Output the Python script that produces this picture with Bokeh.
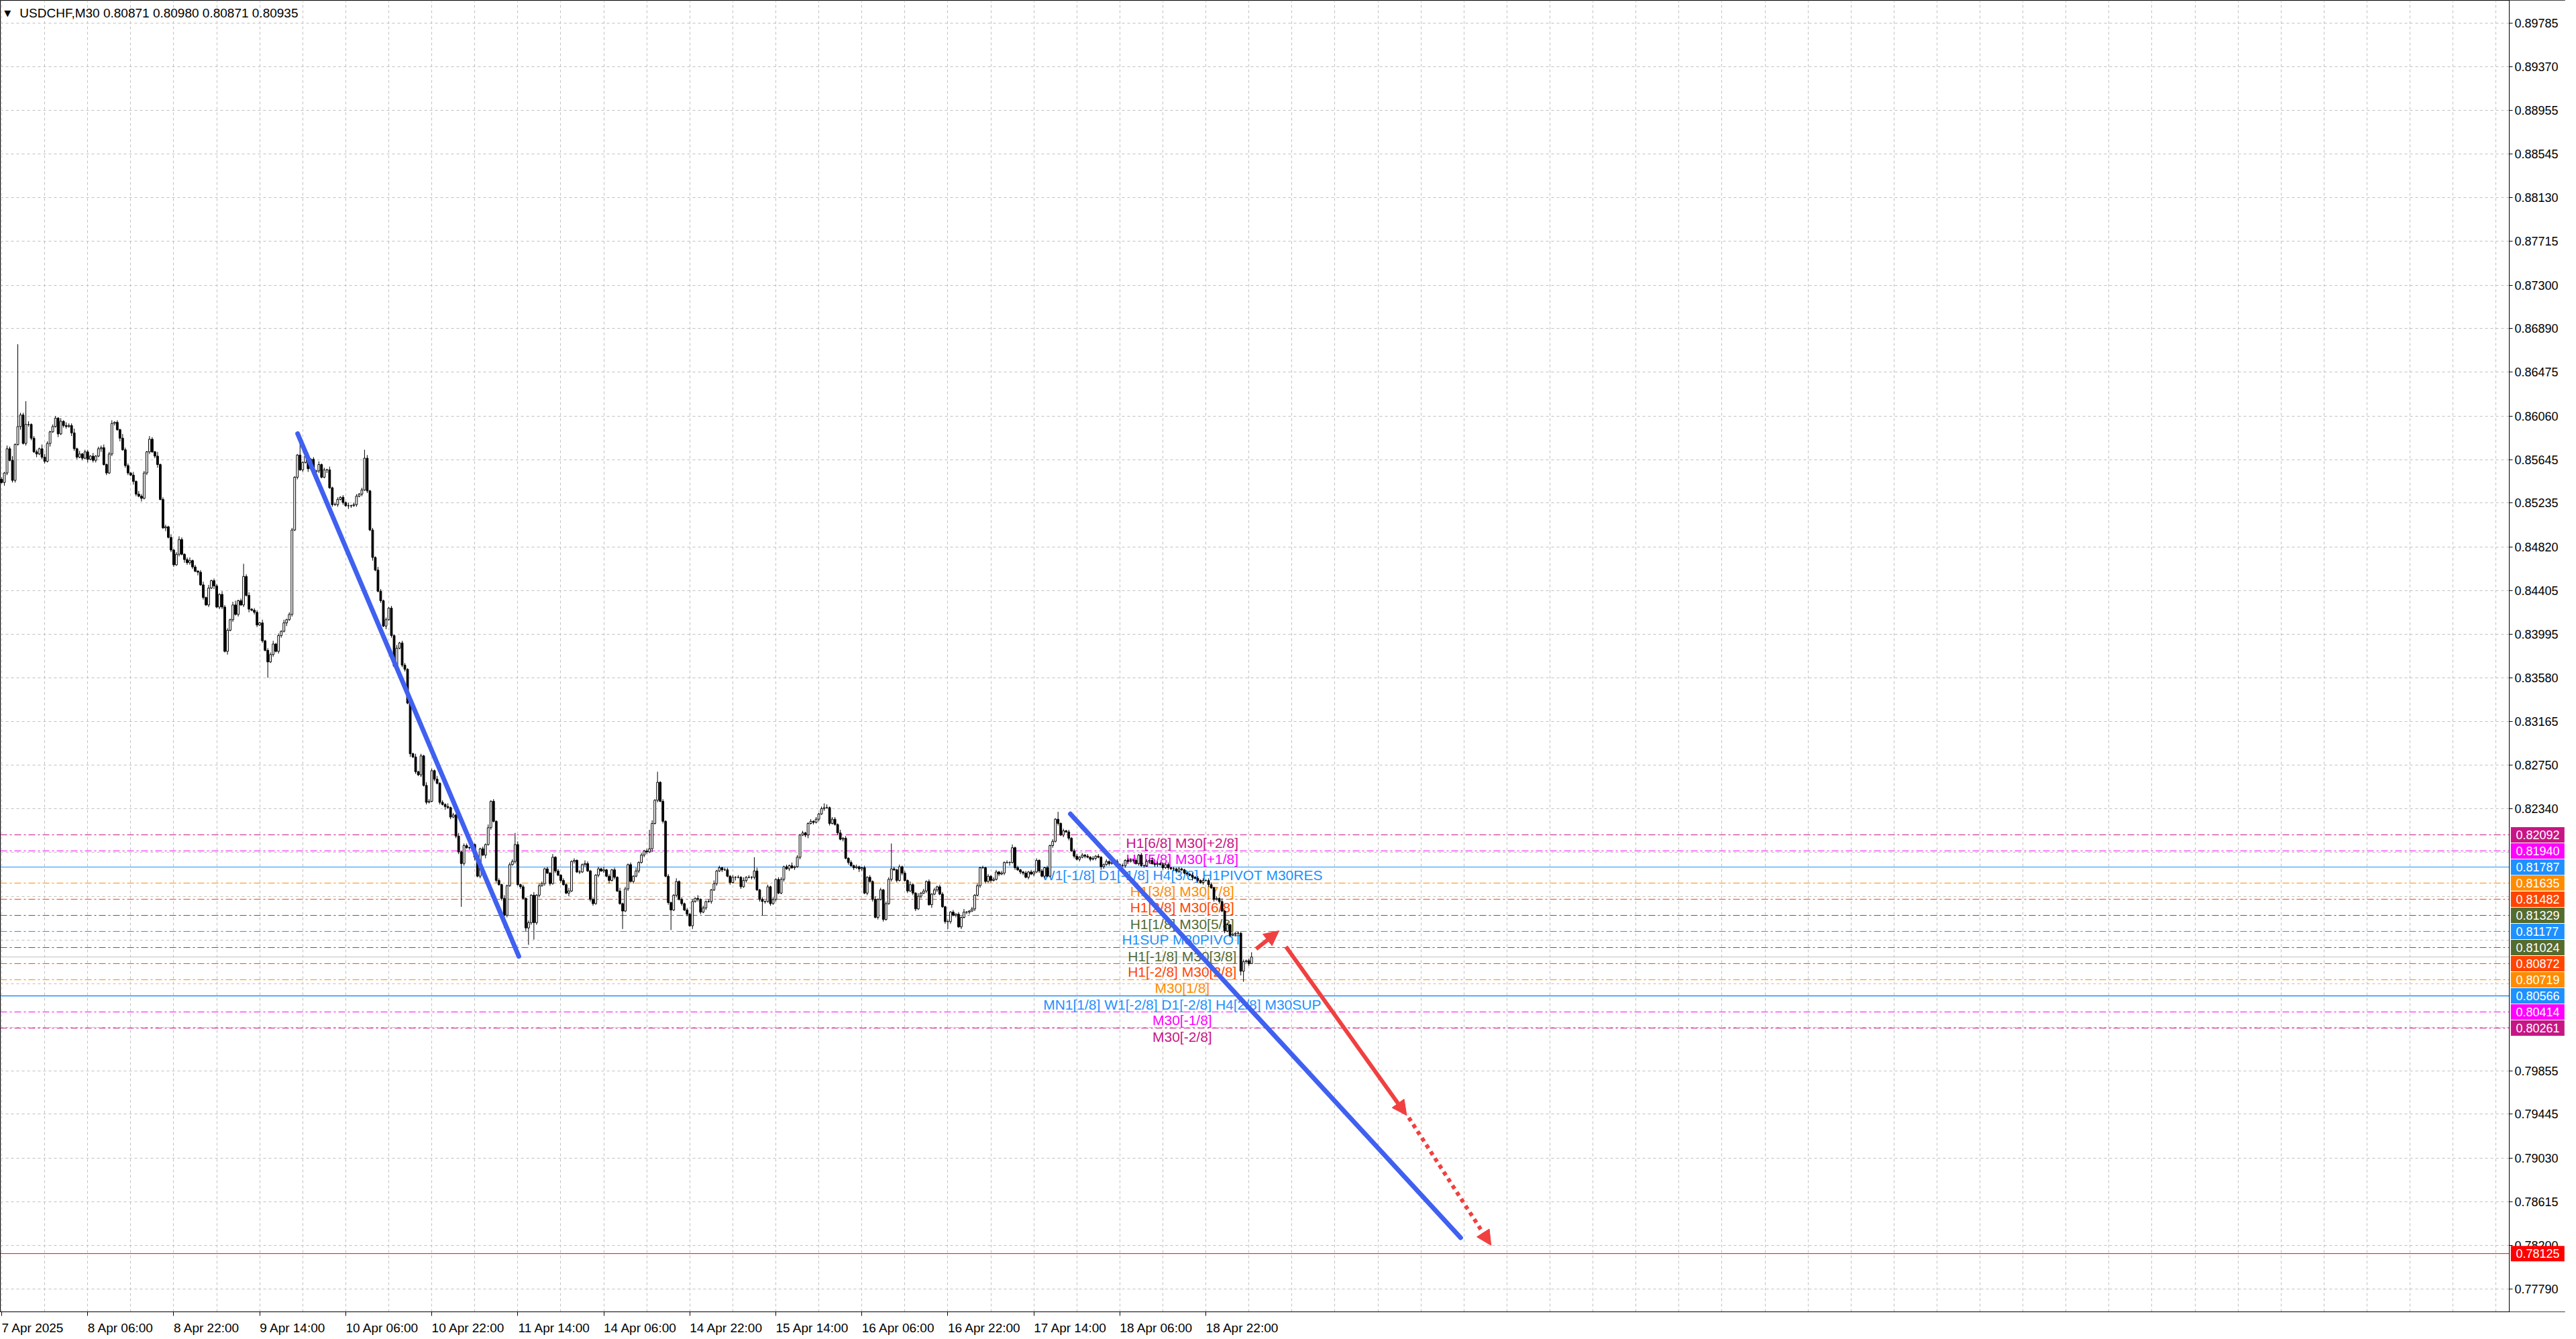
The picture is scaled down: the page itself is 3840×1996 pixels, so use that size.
import numpy as np
from bokeh.plotting import figure
from bokeh.models import (Range1d, FixedTicker, Span, Label, Arrow, NormalHead,
                          ColumnDataSource, PrintfTickFormatter)
from bokeh.core.properties import value
from bokeh.embed import file_html
from bokeh.resources import INLINE

SYMBOL = "USDCHF,M30"

# closes in 1e-5 price units, one per 30-minute bar
CLOSE = [
    85430,85520,85750,85640,85450,85790,85960,86070,85800,85980,
    85980,85850,85720,85700,85750,85670,85630,85800,85910,85960,
    86040,85890,86010,85970,85960,85970,85900,85750,85670,85700,
    85660,85720,85650,85680,85640,85680,85750,85760,85600,85520,
    85700,85990,86000,85930,85850,85740,85590,85520,85500,85440,
    85320,85300,85280,85520,85720,85840,85720,85680,85600,85270,
    85000,85010,84910,84790,84650,84750,84890,84750,84700,84670,
    84690,84630,84590,84580,84460,84340,84270,84430,84500,84450,
    84250,84370,84250,83830,84030,84130,84270,84180,84310,84270,
    84540,84360,84230,84220,84200,84080,84100,83930,83840,83730,
    83800,83900,83830,83980,84020,84100,84130,84180,84980,85480,
    85690,85550,85620,85680,85560,85650,85530,85540,85600,85480,
    85550,85550,85380,85220,85220,85270,85290,85240,85210,85210,
    85210,85220,85300,85320,85360,85660,85350,84980,84720,84600,
    84400,84310,84070,84130,84240,83980,83690,83860,83910,83700,
    83660,83340,82860,82830,82690,82660,82840,82560,82400,82410,
    82700,82620,82580,82400,82380,82360,82350,82260,82280,82080,
    81930,81820,81990,81970,81970,82000,81880,81700,81960,81900,
    82000,82160,82410,82220,81660,81620,81490,81330,81610,81810,
    81840,82000,81620,81600,81490,81210,81260,81520,81260,81520,
    81610,81630,81770,81730,81630,81880,81750,81710,81660,81620,
    81540,81560,81840,81850,81740,81740,81810,81820,81750,81480,
    81440,81710,81770,81750,81760,81700,81660,81760,81690,81560,
    81440,81370,81580,81810,81650,81700,81750,81830,81900,81940,
    81930,81960,82200,82420,82590,82410,82220,81700,81450,81380,
    81520,81650,81480,81440,81380,81340,81230,81460,81490,81480,
    81360,81400,81460,81460,81570,81630,81750,81780,81760,81760,
    81700,81640,81690,81690,81690,81600,81660,81690,81690,81690,
    81750,81570,81480,81460,81460,81600,81440,81480,81670,81540,
    81670,81790,81770,81800,81780,81790,81880,82090,82110,82090,
    82200,82220,82210,82240,82290,82340,82350,82350,82200,82240,
    82190,82110,82050,82060,81870,81830,81800,81780,81790,81770,
    81780,81540,81690,81650,81480,81310,81480,81570,81290,81440,
    81670,81770,81760,81660,81790,81730,81660,81560,81620,81540,
    81390,81510,81540,81560,81650,81430,81530,81570,81600,81530,
    81410,81270,81270,81360,81330,81340,81220,81310,81360,81360,
    81370,81390,81520,81610,81780,81780,81650,81700,81660,81670,
    81740,81720,81730,81830,81830,81830,81970,81780,81760,81740,
    81730,81690,81740,81720,81740,81850,81750,81700,81780,81700,
    81990,82030,82240,82200,82090,82130,82120,82060,81940,81890,
    81860,81880,81900,81890,81880,81860,81870,81890,81880,81790,
    81810,81840,81820,81830,81840,81810,81800,81800,81850,81840,
    81850,81850,81820,81900,81800,81800,81840,81850,81820,81810,
    81820,81810,81780,81810,81780,81770,81770,81750,81770,81760,
    81730,81720,81710,81690,81680,81660,81640,81660,81660,81620,
    81590,81480,81490,81460,81370,81180,81240,81140,81150,81160,
    81160,80800,80890,80900,80871,80935,
]
OPEN_FIRST = 85460

# wick lengths in pips (0.0001), one digit per bar
WICK_UP_DIGITS = (
    "2132413221" "3122143212" "2131322413" "1221312231" "2312142213"
    "1322132141" "2213123212" "3121231312" "2132213412" "1231221312"
    "2312131221" "1212312131" "2131221213" "1221213121" "3212121312"
    "2121312132" "2131213121" "3122131212" "1312121312" "2131212131"
    "2212131212" "1312121321" "2121312121" "3121213121" "2131212121"
    "1312121213" "1212131212" "2121213121" "1312121212" "2121312121"
    "1212121312" "2131212121" "1212131212" "2121212131" "1312121212"
    "2121212131" "1212121212" "2121213121" "1212121212" "1212121212"
    "2121212121" "1212121212" "2121212131" "2121212121" "1212121212"
    "2121312121" "2121212121"
)
WICK_DN_DIGITS = (
    "1321221312" "2213122131" "1312213221" "2131221312" "1221312213"
    "2131221231" "1312212132" "2213121213" "1221312121" "2131221213"
    "1212213121" "2121312121" "1312121213" "2121212131" "1213121212"
    "2131212121" "1212131212" "2121213121" "3121212121" "1212131212"
    "2121212121" "1312121212" "2121213121" "1212121212" "2131212121"
    "1212121312" "2121212121" "1213121212" "2121212121" "1212121212"
    "3121212121" "1212121213" "2121212121" "1212121212" "2121213121"
    "1212121212" "2121212121" "1212131212" "2121212121" "1212121212"
    "1212121213" "2121212121" "1212121212" "2121212121" "1213121212"
    "1212121212" "2121212121"
)
HIGH_OVERRIDE = {6: 86740, 9: 86200, 90: 84660, 111: 85830, 135: 85740, 191: 82110,
                 241: 82140, 244: 82690, 280: 81880, 306: 82390, 331: 82010,
                 393: 82310, 465: 80980}
LOW_OVERRIDE = {99: 83580, 171: 81410, 187: 81210, 196: 81050, 198: 81100,
                231: 81200, 249: 81190, 283: 81330, 352: 81200, 461: 80760,
                462: 80700, 465: 80871}

TIME_LABELS = ["7 Apr 2025", "8 Apr 06:00", "8 Apr 22:00", "9 Apr 14:00",
               "10 Apr 06:00", "10 Apr 22:00", "11 Apr 14:00", "14 Apr 06:00",
               "14 Apr 22:00", "15 Apr 14:00", "16 Apr 06:00", "16 Apr 22:00",
               "17 Apr 14:00", "18 Apr 06:00", "18 Apr 22:00"]
BARS_PER_LABEL = 32

PRICE_TICKS = [0.89785, 0.89370, 0.88955, 0.88545, 0.88130, 0.87715, 0.87300,
               0.86890, 0.86475, 0.86060, 0.85645, 0.85235, 0.84820, 0.84405,
               0.83995, 0.83580, 0.83165, 0.82750, 0.82340, 0.81925, 0.81510,
               0.81095, 0.80680, 0.80270, 0.79855, 0.79445, 0.79030, 0.78615,
               0.78200, 0.77790]
HIDDEN_TICKS = [0.81925, 0.81510, 0.81095, 0.80680, 0.80270]

LEVEL_PRICES = [0.82092, 0.81940, 0.81787, 0.81635, 0.81482, 0.81329, 0.81177,
                0.81024, 0.80872, 0.80719, 0.80566, 0.80414, 0.80261]
LEVEL_COLORS = ["#C71585", "#FF00FF", "#1E90FF", "#FF8C00", "#FF4500", "#556B2F",
                "#1E90FF", "#556B2F", "#FF4500", "#FF8C00", "#1E90FF", "#FF00FF",
                "#C71585"]
LEVEL_SOLID = [False, False, True, False, False, False, False, False, False,
               False, True, False, False]
LEVEL_WIDTHS = [1, 1, 1, 1, 1, 1, 1, 1, 1, 1, 1.6, 1, 1]
LEVEL_TEXT = ["H1[6/8] M30[+2/8]", "H1[5/8] M30[+1/8]",
              "W1[-1/8] D1[-1/8] H4[3/8] H1PIVOT M30RES", "H1[3/8] M30[7/8]",
              "H1[2/8] M30[6/8]", "H1[1/8] M30[5/8]", "H1SUP M30PIVOT",
              "H1[-1/8] M30[3/8]", "H1[-2/8] M30[2/8]", "M30[1/8]",
              "MN1[1/8] W1[-2/8] D1[-2/8] H4[2/8] M30SUP", "M30[-1/8]", "M30[-2/8]"]
ALERT_PRICE = 0.78125

TREND_X = [[110.1, 192.4], [397.6, 542.8]]
TREND_Y = [[0.85893, 0.80941], [0.82290, 0.78275]]
ARROWS = [  # x0, y0, x1, y1, dotted
    (466.7, 0.81011, 475.2, 0.81183, False),
    (477.8, 0.81032, 522.7, 0.79434, False),
    (523.5, 0.79412, 554.1, 0.78203, True),
]

X_START, X_CHART_END = -0.5, 932.9
Y_LOW, Y_HIGH = 0.77573, 0.89998

FRAME_W, CHART_W, FRAME_H = 3824, 3740, 1955
PX_PER_BAR = CHART_W / (X_CHART_END - X_START)
X_FRAME_END = X_START + FRAME_W / PX_PER_BAR

# ---------------------------------------------------------------
n = len(CLOSE)
close = np.array(CLOSE, dtype=float) / 1e5
opn = np.concatenate([[OPEN_FIRST / 1e5], close[:-1]])
wu = np.array([int(c) for c in WICK_UP_DIGITS[:n]], dtype=float) / 1e4
wd = np.array([int(c) for c in WICK_DN_DIGITS[:n]], dtype=float) / 1e4
high = np.maximum(opn, close) + wu
low = np.minimum(opn, close) - wd
for k, v in HIGH_OVERRIDE.items():
    high[k] = v / 1e5
for k, v in LOW_OVERRIDE.items():
    low[k] = v / 1e5
idx = np.arange(n)
bull = close >= opn
src = ColumnDataSource(dict(
    x=idx, top=np.maximum(opn, close), bottom=np.minimum(opn, close),
    high=high, low=low, fill=np.where(bull, "white", "black").tolist()))

FONT = "Liberation Sans"
# Arial / Liberation Sans advance widths (em) used to left-align the time labels
CHAR_EM = {" ": 0.278, ":": 0.278, "A": 0.667, "p": 0.556, "r": 0.333}
def text_width(s, size):
    return sum(CHAR_EM.get(c, 0.556) for c in s) * size

p = figure(frame_width=FRAME_W, frame_height=FRAME_H, output_backend="svg",
           toolbar_location=None, y_axis_location="right",
           x_range=Range1d(X_START, X_FRAME_END), y_range=Range1d(Y_LOW, Y_HIGH),
           min_border_left=0, min_border_top=0, min_border_right=0,
           min_border_bottom=0, background_fill_color="white",
           border_fill_color="white")
p.outline_line_color = "black"
p.outline_line_width = 1

# x axis: minor ticks mark the label times, labels start at each mark
LBL_SIZE = 19
label_ticks = [i * BARS_PER_LABEL for i in range(len(TIME_LABELS))]
centers = [t + text_width(s, LBL_SIZE) / 2 / PX_PER_BAR
           for t, s in zip(label_ticks, TIME_LABELS)]
xa = p.xaxis[0]
xa.ticker = FixedTicker(ticks=centers, minor_ticks=label_ticks)
xa.major_label_overrides = {c: s for c, s in zip(centers, TIME_LABELS)}
xa.major_label_text_font = FONT
xa.major_label_text_font_size = "%dpx" % LBL_SIZE
xa.major_label_text_color = "black"
xa.major_tick_out = 0
xa.major_tick_in = 0
xa.minor_tick_out = 6
xa.minor_tick_in = 0
xa.minor_tick_line_color = "black"
xa.major_label_standoff = 7
xa.axis_line_color = "black"
xa.bounds = (X_START, X_CHART_END)

# price axis drawn at the chart's right edge
ya = p.yaxis[0]
ya.fixed_location = X_CHART_END
ya.ticker = FixedTicker(ticks=[t for t in PRICE_TICKS if t not in HIDDEN_TICKS],
                        minor_ticks=[])
ya.formatter = PrintfTickFormatter(format="%.5f")
ya.major_label_text_font = FONT
ya.major_label_text_font_size = "18px"
ya.major_label_text_color = "black"
ya.major_tick_out = 5
ya.major_tick_in = 0
ya.minor_tick_out = 0
ya.minor_tick_in = 0
ya.major_label_standoff = 3
ya.axis_line_color = "black"

p.xgrid.ticker = FixedTicker(ticks=list(range(0, int(X_CHART_END) + 1, 16)))
for g in (p.xgrid, p.ygrid):
    g.grid_line_color = "#C0C0C0"
    g.grid_line_dash = "4 4"
    g.grid_line_width = 1
p.ygrid.ticker = FixedTicker(ticks=PRICE_TICKS)

# level lines
for pr, col, solid, w in zip(LEVEL_PRICES, LEVEL_COLORS, LEVEL_SOLID, LEVEL_WIDTHS):
    p.add_layout(Span(location=pr, dimension="width", line_color=col,
                      line_width=w, line_dash="solid" if solid else "10 4 3 4",
                      level="underlay"))
p.add_layout(Span(location=close[-1], dimension="width", line_color="#C0C0C0",
                  line_width=1, level="underlay"))
p.add_layout(Span(location=ALERT_PRICE, dimension="width", line_color="#FF0000",
                  line_width=1, level="underlay"))

# blank price-scale column
p.quad(left=[X_CHART_END], right=[X_FRAME_END], bottom=[Y_LOW], top=[Y_HIGH],
       fill_color="white", line_color=None)

# level texts
lvl_src = ColumnDataSource(dict(x=[439.2] * len(LEVEL_PRICES), y=LEVEL_PRICES,
                                text=LEVEL_TEXT, color=LEVEL_COLORS))
p.text(x="x", y="y", text="text", text_color="color", source=lvl_src,
       text_align="center", text_baseline="top", y_offset=1,
       text_font=value(FONT), text_font_size="21px")

# candles
p.segment(x0="x", y0="low", x1="x", y1="high", source=src,
          line_color="black", line_width=1)
p.vbar(x="x", width=0.7, top="top", bottom="bottom", source=src,
       fill_color="fill", line_color="black", line_width=1)

# trend lines
for xs, ys in zip(TREND_X, TREND_Y):
    p.line(xs, ys, line_color="#4060F0", line_width=7, line_cap="round")

# red arrows
RED = "#F04040"
for x0, y0, x1, y1, dotted in ARROWS:
    p.add_layout(Arrow(x_start=x0, y_start=y0, x_end=x1, y_end=y1,
                       line_color=RED, line_width=6,
                       line_dash="6 6" if dotted else "solid",
                       end=NormalHead(size=22, fill_color=RED, line_color=RED)))

# title
title = "%s  %.5f %.5f %.5f %.5f" % (SYMBOL, opn[-1], high[-1], low[-1], close[-1])
p.add_layout(Label(x=2.2, y=0.89878, text="\u25BC", text_font="DejaVu Sans",
                   text_font_size="13px", text_align="center",
                   text_baseline="middle", text_color="black"))
p.add_layout(Label(x=6.7, y=0.89878, text=title, text_font=FONT,
                   text_font_size="19px", text_align="left",
                   text_baseline="middle", text_color="black"))

# price boxes on the right scale
box_prices = LEVEL_PRICES + [ALERT_PRICE]
box_src = ColumnDataSource(dict(
    x=[X_CHART_END + 42.3 / PX_PER_BAR] * len(box_prices),
    tx=[X_CHART_END] * len(box_prices), y=box_prices,
    color=LEVEL_COLORS + ["#FF0000"], text=["%.5f" % v for v in box_prices]))
r1 = p.rect(x="x", y="y", width=80, height=23, width_units="screen",
            height_units="screen", fill_color="color", line_color=None,
            source=box_src)
r2 = p.text(x="tx", y="y", text="text", text_color="white", x_offset=10,
            text_align="left", text_baseline="middle", text_font=value(FONT),
            text_font_size="18px", source=box_src)
r1.level = "overlay"
r2.level = "overlay"

open("out.html", "w").write(file_html(p, INLINE))
